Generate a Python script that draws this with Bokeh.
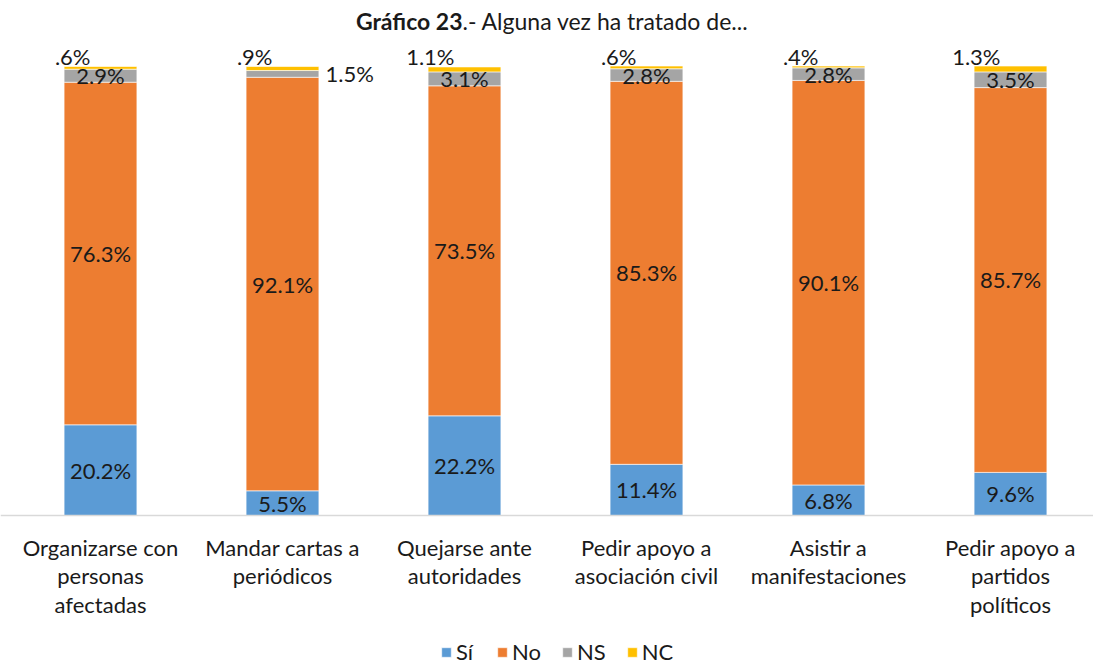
from bokeh.plotting import figure
from bokeh.models import ColumnDataSource, Range1d, Legend, LegendItem, Label, Span
from bokeh.embed import file_html
from bokeh.resources import INLINE
from bokeh.core.properties import value

categories = ["Organizarse con\npersonas\nafectadas", "Mandar cartas a\nperiódicos",
              "Quejarse ante\nautoridades", "Pedir apoyo a\nasociación civil",
              "Asistir a\nmanifestaciones", "Pedir apoyo a\npartidos\npolíticos"]
series = ["Sí", "No", "NS", "NC"]
si = [20.2, 5.5, 22.2, 11.4, 6.8, 9.6]
no = [76.3, 92.1, 73.5, 85.3, 90.1, 85.7]
ns = [2.9, 1.5, 3.1, 2.8, 2.8, 3.5]
nc = [0.6, 0.9, 1.1, 0.6, 0.4, 1.3]
colors = ["#5B9BD5", "#ED7D31", "#A5A5A5", "#FFC000"]

FONT = "Lato"
TXT = "#1a1a1a"
FS = "22px"

def fmt(v):
    s = f"{v:.1f}%"
    return s[1:] if s.startswith("0") else s

xs = list(range(len(categories)))
vals = [si, no, ns, nc]

W, H = 1093, 666
x0 = -100 / 182
p = figure(width=W, height=H, output_backend="svg", toolbar_location=None,
           x_range=Range1d(x0, x0 + W / 182),
           y_range=Range1d(-(H - 515) / 449 * 100, 515 / 449 * 100),
           min_border_left=0, min_border_right=0, min_border_top=0, min_border_bottom=0)
p.outline_line_color = None
p.xgrid.visible = False
p.ygrid.visible = False
p.xaxis.visible = False
p.yaxis.visible = False
p.background_fill_color = "white"
p.border_fill_color = "white"

# category axis line
p.add_layout(Span(location=0, dimension="width", line_color="#D9D9D9", line_width=1.5))

items = []
bottom = [0.0] * len(xs)
for name, v, c in zip(series, vals, colors):
    top = [b + a for b, a in zip(bottom, v)]
    src = ColumnDataSource(dict(x=xs, bottom=bottom, top=top))
    r = p.vbar(x="x", bottom="bottom", top="top", width=0.4, source=src,
               fill_color=c, line_color="white", line_width=0.6)
    items.append(LegendItem(label=name, renderers=[r]))
    bottom = top

cum = [0.0] * len(xs)
mids = []
tops = []
for v in vals:
    mids.append([c + a / 2 for c, a in zip(cum, v)])
    cum = [c + a for c, a in zip(cum, v)]
    tops.append(list(cum))

common = dict(text_font=value(FONT), text_font_size=FS, text_color=TXT)
for k in (0, 1):
    src = ColumnDataSource(dict(x=xs, y=mids[k], t=[fmt(a) for a in vals[k]]))
    p.text(x="x", y="y", text="t", source=src, text_align="center", text_baseline="middle", **common)
idx_c = [i for i in xs if i != 1]
src = ColumnDataSource(dict(x=[xs[i] for i in idx_c], y=[mids[2][i] for i in idx_c],
                            t=[fmt(ns[i]) for i in idx_c]))
p.text(x="x", y="y", text="t", source=src, text_align="center", text_baseline="middle", **common)
src = ColumnDataSource(dict(x=[xs[1]], y=[mids[2][1]], t=[fmt(ns[1])]))
p.text(x="x", y="y", text="t", source=src, text_align="left", text_baseline="middle",
       x_offset=43, **common)
src = ColumnDataSource(dict(x=xs, y=tops[3], t=[fmt(a) for a in nc]))
p.text(x="x", y="y", text="t", source=src, text_align="right", text_baseline="middle",
       x_offset=-10, y_offset=-10, **common)

# category labels
src = ColumnDataSource(dict(x=xs, y=[0] * len(xs), t=categories))
p.text(x="x", y="y", text="t", source=src, text_align="center", text_baseline="top",
       y_offset=18, text_line_height=1.06, **common)

ty = 100 + (66 - 20) / 449 * 100
tx = x0 + 462 / 182
p.add_layout(Label(x=tx, y=ty, text="Gráfico 23", text_font=FONT, text_font_size="23px",
                   text_font_style="bold", text_color=TXT, text_align="right", text_baseline="middle"))
p.add_layout(Label(x=tx, y=ty, text=".- Alguna vez ha tratado de...", text_font=FONT,
                   text_font_size="23px", text_color=TXT, text_align="left", text_baseline="middle"))

legend = Legend(items=items, location=(440, 1), orientation="horizontal",
                label_text_font=FONT, label_text_font_size=FS, label_text_color=TXT,
                glyph_width=12, glyph_height=12, label_standoff=4, spacing=20,
                padding=0, margin=0, border_line_color=None, background_fill_alpha=0,
                label_height=20)
p.add_layout(legend, "center")

open("out.html", "w").write(file_html(p, INLINE))
